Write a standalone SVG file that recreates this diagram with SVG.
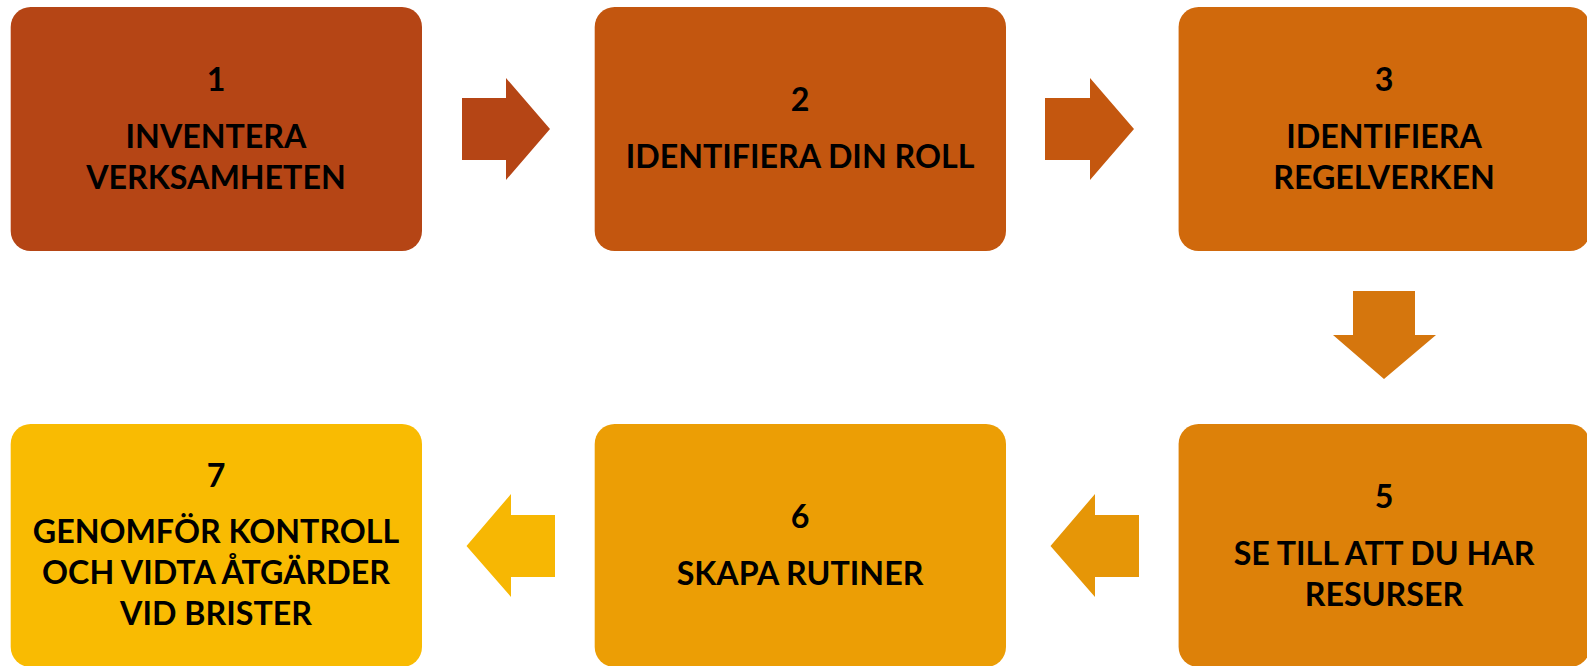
<svg xmlns="http://www.w3.org/2000/svg" width="1587" height="666" viewBox="0 0 1587 666">
<style>
text{font-family:Lato,"Liberation Sans",sans-serif;font-weight:bold;font-size:32.2px;fill:#000;text-anchor:middle}
</style>
<rect width="1587" height="666" fill="#fff"/>
<g id="connectors">
<polygon fill="#B54515" points="462,98 506,98 506,78 550,129 506,180 506,160 462,160"/>
<polygon fill="#C4570F" points="1045,98 1090,98 1090,78 1134,129 1090,180 1090,160 1045,160"/>
<polygon fill="#D5760D" points="1353,291 1415,291 1415,335 1436,335 1384,379 1333,335 1353,335"/>
<polygon fill="#E69607" points="1139,515 1095,515 1095,494 1050.5,546 1095,597 1095,577 1139,577"/>
<polygon fill="#F7B703" points="555,515 511,515 511,494 466.5,546 511,597 511,577 555,577"/>
</g>
<g id="n1"><rect x="10.7" y="7" width="411.3" height="244" rx="20" fill="#B54515"/>
<text x="216" y="90.7">1</text><text x="216" y="148">INVENTERA</text><text x="216" y="188.7">VERKSAMHETEN</text></g>
<g id="n2"><rect x="594.7" y="7" width="411.3" height="244" rx="20" fill="#C3560F"/>
<text x="800" y="111">2</text><text x="800" y="167.7">IDENTIFIERA DIN ROLL</text></g>
<g id="n3"><rect x="1178.6" y="7" width="411.3" height="244" rx="20" fill="#D0690C"/>
<text x="1384" y="90.7">3</text><text x="1384" y="148">IDENTIFIERA</text><text x="1384" y="188.7">REGELVERKEN</text></g>
<g id="n5"><rect x="1178.6" y="424" width="411.3" height="243" rx="20" fill="#DD8109"/>
<text x="1384" y="508.3">5</text><text x="1384" y="565.3">SE TILL ATT DU HAR</text><text x="1384" y="606">RESURSER</text></g>
<g id="n6"><rect x="594.7" y="424" width="411.3" height="243" rx="20" fill="#EC9E05"/>
<text x="800" y="528.3">6</text><text x="800" y="585">SKAPA RUTINER</text></g>
<g id="n7"><rect x="10.7" y="424" width="411.3" height="243" rx="20" fill="#F9BB02"/>
<text x="216" y="486.7">7</text><text x="216" y="543.3">GENOMFÖR KONTROLL</text><text x="216" y="584.3">OCH VIDTA ÅTGÄRDER</text><text x="216" y="625.3">VID BRISTER</text></g>
</svg>
